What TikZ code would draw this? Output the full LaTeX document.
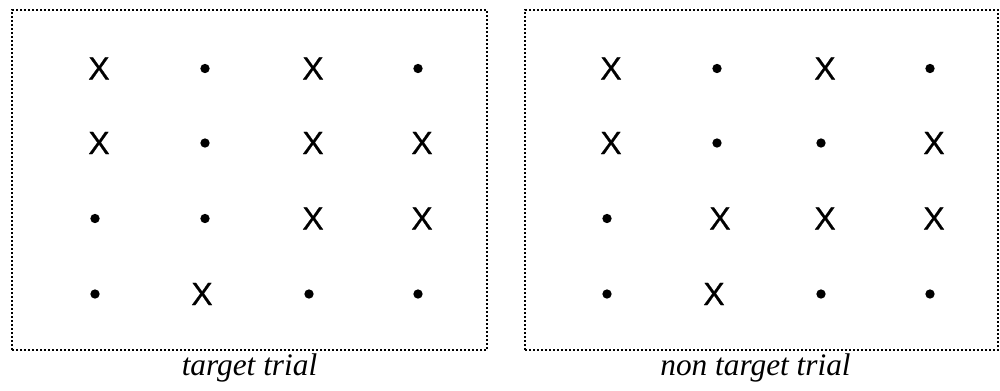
\documentclass[tikz,border=0pt]{standalone}
\usepackage{fontspec}
\setmainfont{Liberation Serif}
\newfontfamily\xfont[FakeBold=0.6]{Liberation Sans}
\tikzset{
  frame/.style={draw, rectangle, line width=1.5pt, dash pattern=on 1.5pt off 1.5pt, inner sep=0pt},
  xmark/.style={inner sep=0pt, font=\xfont\fontsize{24}{24}\selectfont},
  dotmark/.style={circle, fill, inner sep=0pt, minimum size=7pt},
  caption/.style={font=\fontsize{23.5}{23.5}\selectfont\itshape, anchor=base, inner sep=0pt}
}
\begin{document}
\begin{tikzpicture}[x=0.75pt,y=-0.75pt]
\useasboundingbox (0,0) rectangle (1000,390);
% frames
\node[frame, minimum width=356.25pt, minimum height=255pt] (boxL) at (249.5,180) {};
\node[frame, minimum width=354.75pt, minimum height=255pt] (boxR) at (761.5,180) {};
% left grid: X marks
\foreach \n/\x/\y in {a/99/68.5, b/313/68.5, c/99/143, d/313/143, e/422/143, f/313/218.5, g/422/218.5, h/202/294}
  \node[xmark] (LX\n) at (\x,\y) {X};
% left grid: dots
\foreach \n/\x/\y in {a/205/68.5, b/418/68.5, c/205/143, d/95/218.5, e/205/218.5, f/95/294, g/309/294, h/418/294}
  \node[dotmark] (LD\n) at (\x,\y) {};
% right grid: X marks
\foreach \n/\x/\y in {a/611/68.5, b/825/68.5, c/611/143, d/934/143, e/720/218.5, f/825/218.5, g/934/218.5, h/714/294}
  \node[xmark] (RX\n) at (\x,\y) {X};
% right grid: dots
\foreach \n/\x/\y in {a/717/68.5, b/930/68.5, c/717/143, d/821/143, e/607/218.5, f/607/294, g/821/294, h/930/294}
  \node[dotmark] (RD\n) at (\x,\y) {};
% captions
\node[caption] (capL) at (249.5,375) {target trial};
\node[caption] (capR) at (755.5,375) {non target trial};
\end{tikzpicture}
\end{document}
